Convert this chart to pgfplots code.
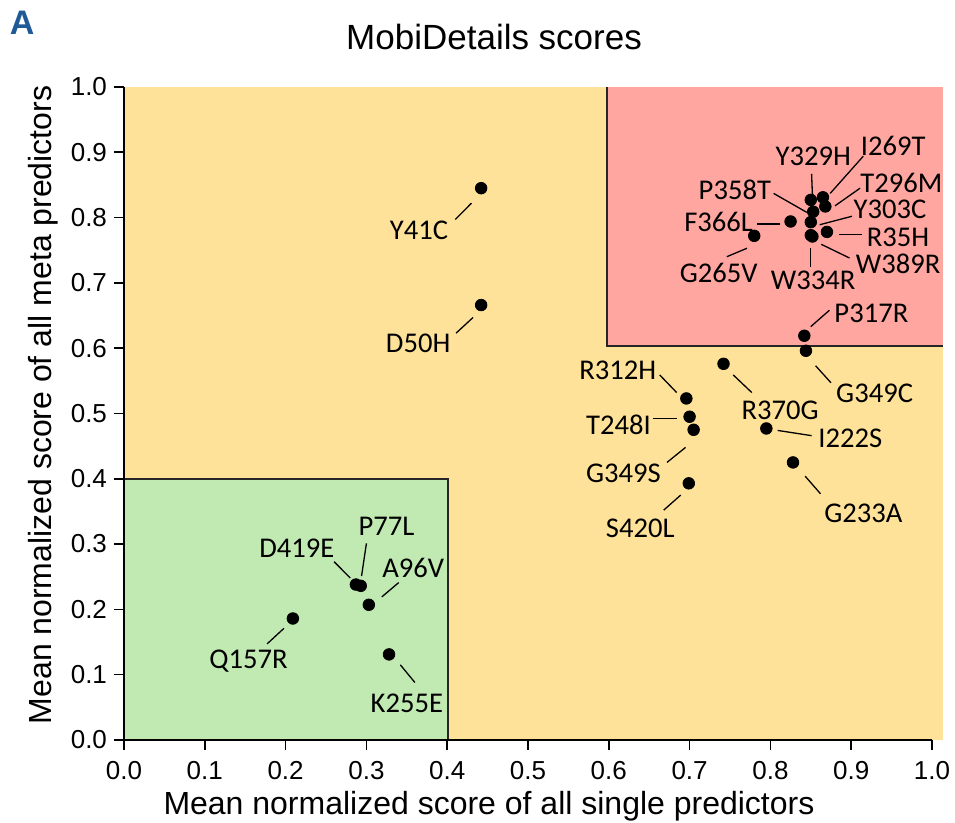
\documentclass[border=0pt]{standalone}
\usepackage{fontspec}
\setmainfont{Liberation Sans}
\newfontfamily\calib{Carlito}
\usepackage{pgfplots}
\usepackage{pgfplotstable}
\pgfplotsset{compat=1.18}
\definecolor{bgY}{RGB}{255,226,153}
\definecolor{bgR}{RGB}{255,166,160}
\definecolor{bgG}{RGB}{193,233,178}
\definecolor{lblA}{RGB}{31,90,150}
\newcommand{\lab}[3]{\node[font=\calib\fontsize{14.3}{16}\selectfont, inner sep=0pt] at (axis cs:#1,#2) {#3};}
\newcommand{\ld}[4]{\draw[line width=0.65pt] (axis cs:#1,#2) -- (axis cs:#3,#4);}
\pgfplotstableread{
x y name
0.442 0.845 Y41C
0.442 0.666 D50H
0.850 0.827 Y329H
0.865 0.831 I269T
0.868 0.817 T296M
0.853 0.809 P358T
0.850 0.793 Y303C
0.825 0.794 F366L
0.780 0.772 G265V
0.850 0.773 W334R
0.870 0.778 R35H
0.852 0.771 W389R
0.842 0.619 P317R
0.844 0.596 G349C
0.742 0.576 R370G
0.696 0.523 R312H
0.700 0.495 T248I
0.705 0.475 G349S
0.795 0.477 I222S
0.828 0.425 G233A
0.699 0.393 S420L
0.287 0.238 D419E
0.293 0.236 P77L
0.303 0.207 A96V
0.209 0.186 Q157R
0.328 0.131 K255E
}\pts
\begin{document}
\begin{tikzpicture}
\begin{axis}[
 scale only axis, width=404pt, height=326.5pt,
 xmin=0, xmax=1, ymin=0, ymax=1,
 axis x line*=bottom, axis y line*=left,
 axis line style={-, line width=0.8pt},
 xtick={0,0.1,0.2,0.3,0.4,0.5,0.6,0.7,0.8,0.9,1.0},
 ytick={0,0.1,0.2,0.3,0.4,0.5,0.6,0.7,0.8,0.9,1.0},
 tick align=outside, major tick length=5pt,
 tick style={line width=0.8pt, black},
 /pgf/number format/assume math mode=true,
 /pgf/number format/.cd, fixed, fixed zerofill, precision=1, /pgfplots/.cd,
 ticklabel style={font=\fontsize{13}{15}\selectfont},
 xticklabel style={yshift=-2pt},
 xlabel={Mean normalized score of all single predictors},
 ylabel={Mean normalized score of all meta predictors},
 every axis x label/.style={at={(axis description cs:0.4517,-0.1149)},anchor=base,font=\fontsize{16}{18}\selectfont},
 every axis y label/.style={at={(axis description cs:-0.0903,0.513)},anchor=base,rotate=90,font=\fontsize{16}{18}\selectfont},
 clip=false, axis on top,
]
\fill[bgY] (axis cs:0,0) rectangle (axis cs:1.0136,1.0);
\fill[bgR] (axis cs:0.598,0.603) rectangle (axis cs:1.0136,1.0);
\fill[bgG] (axis cs:0,0) rectangle (axis cs:0.401,0.3997);
\draw[line width=0.75pt, black!85] (axis cs:0,0.3997) -- (axis cs:0.401,0.3997) -- (axis cs:0.401,0);
\draw[line width=0.75pt, black!85] (axis cs:0.598,1.0) -- (axis cs:0.598,0.603) -- (axis cs:1.0136,0.603);

\addplot[only marks, mark=*, mark size=2.9pt, black] table[x=x,y=y] {\pts};

% leader lines
\ld{0.410}{0.797}{0.430}{0.822}
\ld{0.411}{0.623}{0.432}{0.647}
\ld{0.851}{0.867}{0.852}{0.835}
\ld{0.874}{0.837}{0.915}{0.894}
\ld{0.880}{0.818}{0.911}{0.845}
\ld{0.804}{0.837}{0.845}{0.808}
\ld{0.861}{0.789}{0.901}{0.802}
\ld{0.784}{0.790}{0.812}{0.790}
\ld{0.885}{0.774}{0.913}{0.774}
\ld{0.863}{0.759}{0.898}{0.738}
\ld{0.746}{0.740}{0.771}{0.753}
\ld{0.850}{0.753}{0.850}{0.724}
\ld{0.850}{0.633}{0.873}{0.658}
\ld{0.856}{0.573}{0.875}{0.547}
\ld{0.754}{0.559}{0.777}{0.532}
\ld{0.663}{0.559}{0.684}{0.532}
\ld{0.655}{0.492}{0.685}{0.492}
\ld{0.809}{0.474}{0.851}{0.466}
\ld{0.672}{0.425}{0.695}{0.448}
\ld{0.668}{0.352}{0.689}{0.375}
\ld{0.843}{0.404}{0.862}{0.377}
\ld{0.300}{0.301}{0.294}{0.251}
\ld{0.260}{0.273}{0.280}{0.248}
\ld{0.319}{0.219}{0.340}{0.241}
\ld{0.177}{0.147}{0.198}{0.171}
\ld{0.342}{0.115}{0.360}{0.088}

% labels
\lab{0.365}{0.781}{Y41C}
\lab{0.364}{0.607}{D50H}
\lab{0.853}{0.894}{Y329H}
\lab{0.952}{0.909}{I269T}
\lab{0.962}{0.853}{T296M}
\lab{0.756}{0.842}{P358T}
\lab{0.948}{0.812}{Y303C}
\lab{0.736}{0.794}{F366L}
\lab{0.958}{0.769}{R35H}
\lab{0.958}{0.729}{W389R}
\lab{0.736}{0.715}{G265V}
\lab{0.853}{0.704}{W334R}
\lab{0.925}{0.653}{P317R}
\lab{0.929}{0.531}{G349C}
\lab{0.812}{0.505}{R370G}
\lab{0.611}{0.566}{R312H}
\lab{0.612}{0.482}{T248I}
\lab{0.899}{0.462}{I222S}
\lab{0.618}{0.408}{G349S}
\lab{0.639}{0.324}{S420L}
\lab{0.915}{0.347}{G233A}
\lab{0.325}{0.327}{P77L}
\lab{0.214}{0.294}{D419E}
\lab{0.358}{0.263}{A96V}
\lab{0.154}{0.120}{Q157R}
\lab{0.350}{0.056}{K255E}

\node[anchor=base, font=\fontsize{17.5}{20}\selectfont] at (axis cs:0.458,1.0567) {MobiDetails scores};
\node[anchor=base, font=\bfseries\fontsize{17}{19}\selectfont, text=lblA] at (axis cs:-0.126,1.0796) {A};
\coordinate (bbl) at (axis cs:-0.1535,-0.1271);
\coordinate (btr) at (axis cs:1.0285,1.1332);
\end{axis}
\pgfresetboundingbox
\path[use as bounding box] (bbl) rectangle (btr);
\end{tikzpicture}
\end{document}
